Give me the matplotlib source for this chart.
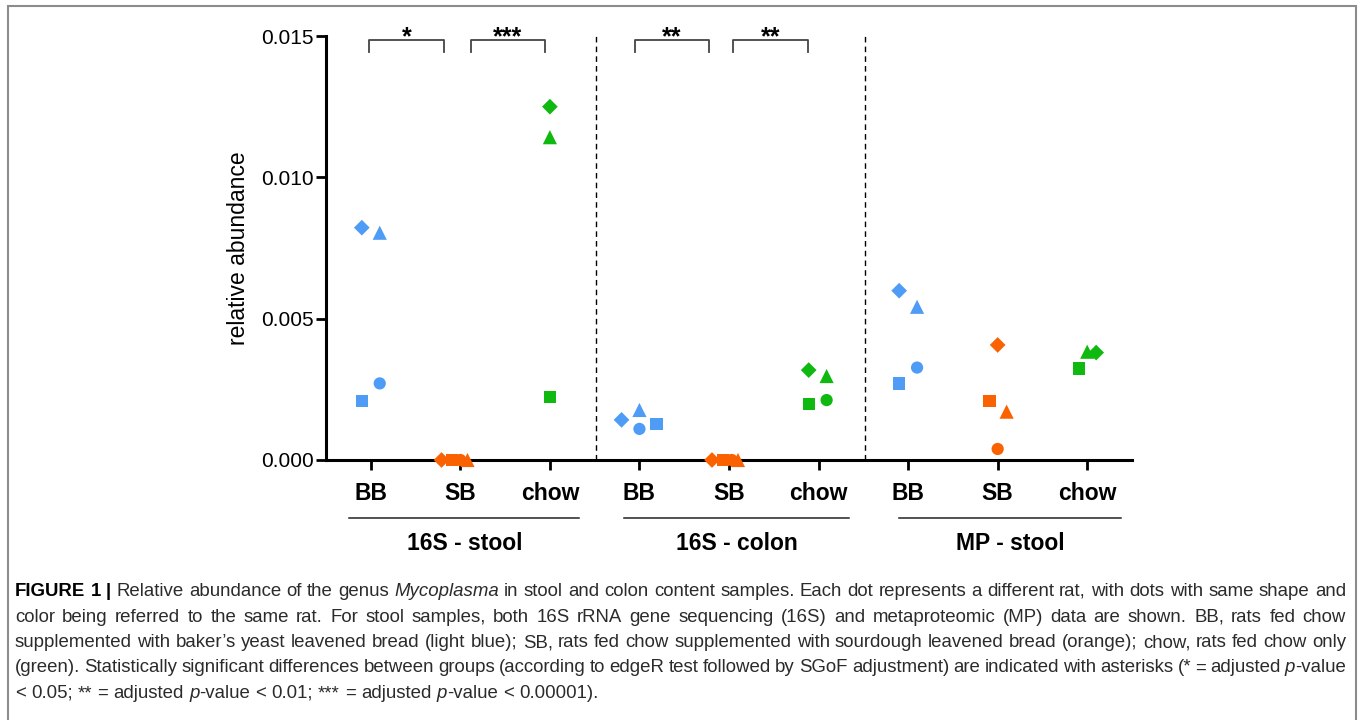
import numpy as np
import matplotlib
matplotlib.use('Agg')
import matplotlib.pyplot as plt
from matplotlib.patches import Rectangle
from matplotlib.transforms import blended_transform_factory

plt.rcParams['font.family'] = ['Liberation Sans', 'DejaVu Sans']

# data: one value per group, nan where the rat has no point
groups = ['BB', 'SB', 'chow'] * 3
sections = ['16S - stool', '16S - colon', 'MP - stool']
diamond = [0.00822, 0.0, 0.01250, 0.00142, 0.0, 0.00318, 0.00599, 0.00407, 0.00380]
triangle = [0.00804, 0.0, 0.01142, 0.00177, 0.0, 0.00297, 0.00542, 0.00171, 0.00383]
circle = [0.00271, 0.0, np.nan, 0.00110, 0.0, 0.00212, 0.00327, 0.00039, np.nan]
square = [0.00209, 0.0, 0.00224, 0.00127, 0.0, 0.00198, 0.00271, 0.00210, 0.00324]
stars = ['*', '***', '**', '**']

colors = ['#4f9cf6', '#fa6100', '#10b910'] * 3

# layout (horizontal jitter of each rat inside its group)
jitter = {
    'D': [-0.10, -0.21, 0.00, -0.20, -0.19, -0.11, -0.10, 0.00, 0.10],
    '^': [0.10, 0.08, 0.00, 0.00, 0.10, 0.09, 0.10, 0.10, 0.00],
    'o': [0.10, 0.00, 0.00, 0.00, 0.03, 0.09, 0.10, 0.00, 0.00],
    's': [-0.10, -0.09, 0.00, 0.19, -0.07, -0.11, -0.10, -0.09, -0.09],
}
bracket_spans = [(-0.02, 0.82), (1.12, 1.94), (2.95, 3.78), (4.05, 4.88)]
section_spans = [(-0.24, 2.33), (2.83, 5.34), (5.90, 8.38)]

fig = plt.figure(figsize=(13.6, 7.2), dpi=100)
ax = fig.add_axes([326 / 1360, 1 - 460 / 720, 806 / 1360, 424 / 720])

x = np.arange(len(groups))
series = [(diamond, 'D', 8.0), (square, 's', 8.8), (circle, 'o', 8.8), (triangle, '^', 10.2)]
for vals, mk, ms in series:
    ax.scatter(x + np.array(jitter[mk]), vals, marker=mk, s=ms ** 2, c=colors,
               linewidths=0, clip_on=False, zorder=3)

ax.set_xlim(-0.5, 8.5)
ax.set_ylim(0, 0.015)
ax.spines['top'].set_visible(False)
ax.spines['right'].set_visible(False)
for s in ['left', 'bottom']:
    ax.spines[s].set_linewidth(2.2)

ax.set_yticks([0, 0.005, 0.010, 0.015])
ax.set_yticklabels(['0.000', '0.005', '0.010', '0.015'])
ax.set_xticks(x)
ax.set_xticklabels(groups, fontweight='bold')
ax.tick_params(axis='y', length=7, width=2, labelsize=15, pad=2)
ax.tick_params(axis='x', length=7, width=2, labelsize=16.5, pad=9)
ax.set_ylabel('relative abundance', fontsize=16.5, labelpad=8)

# section separators
ax.vlines([2.52, 5.52], 0, 0.015, colors='k', linestyles=(0, (4, 3)), lw=1)

# significance brackets
top = 0.014858
leg = 0.014434
trans = blended_transform_factory(ax.transData, ax.transAxes)
for (a, b), st in zip(bracket_spans, stars):
    ax.plot([a, a, b, b], [leg, top, top, leg], color='#444444', lw=1.3, clip_on=False)
    ax.text((a + b) / 2, 0.98, st, transform=trans,
            ha='center', va='baseline', fontsize=18, fontweight='bold')

# section underlines and titles
for (a, b), name in zip(section_spans, sections):
    ax.plot([a, b], [-0.136, -0.136], transform=trans, color='#222222', lw=1.1, clip_on=False)
    ax.text((a + b) / 2, -0.198, name, transform=trans, ha='center', va='center',
            fontsize=16.5, fontweight='bold')

# frame around figure + caption
fig.patches.append(Rectangle((8 / 1360, -0.1), 1348 / 1360, 1 - 6 / 720 + 0.1,
                             transform=fig.transFigure, fill=False, ec='#8c8c8c', lw=1.5))

caption = [
    [('FIGURE 1 | ', 'b'), ('Relative abundance of the genus ', 'n'), ('Mycoplasma', 'i'),
     (' in stool and colon content samples. Each dot represents a different rat, with dots with same shape and', 'n')],
    [('color being referred to the same rat. For stool samples, both 16S rRNA gene sequencing (16S) and '
      'metaproteomic (MP) data are shown. BB, rats fed chow', 'n')],
    [('supplemented with baker\u2019s yeast leavened bread (light blue); SB, rats fed chow supplemented '
      'with sourdough leavened bread (orange); chow, rats fed chow only', 'n')],
    [('(green). Statistically significant differences between groups (according to edgeR test followed '
      'by SGoF adjustment) are indicated with asterisks (* = adjusted ', 'n'), ('p', 'i'), ('-value', 'n')],
    [('< 0.05; ** = adjusted ', 'n'), ('p', 'i'), ('-value < 0.01; *** = adjusted ', 'n'), ('p', 'i'),
     ('-value < 0.00001).', 'n')],
]


def tokenize(segments):
    words = [[]]
    for txt, st in segments:
        parts = txt.split(' ')
        for i, p in enumerate(parts):
            if i > 0:
                words.append([])
            if p:
                words[-1].append((p, st))
    return [w for w in words if w]


renderer = fig.canvas.get_renderer()
cap_size = 13.4
x_left, x_right = 15, 1346
base_y = [596, 621.5, 647, 672.5, 698]
for li, segs in enumerate(caption):
    words = tokenize(segs)
    items = []
    total = 0
    for w in words:
        pieces = []
        wwidth = 0
        for txt, st in w:
            t = fig.text(0, 1 - base_y[li] / 720, txt, fontsize=cap_size, va='baseline',
                         color='#000000' if st == 'b' else '#2b2b2b',
                         fontweight='bold' if st == 'b' else 'normal',
                         fontstyle='italic' if st == 'i' else 'normal')
            wd = t.get_window_extent(renderer).width
            pieces.append((t, wd))
            wwidth += wd
        items.append(pieces)
        total += wwidth
    natural = 0.278 * cap_size * 100 / 72
    if li < len(caption) - 1:
        gap = (x_right - x_left - total) / (len(items) - 1)
    else:
        gap = natural
    cx = x_left
    for pieces in items:
        for t, wd in pieces:
            t.set_x(cx / 1360)
            cx += wd
        cx += gap

fig.savefig('out.png', dpi=100)
